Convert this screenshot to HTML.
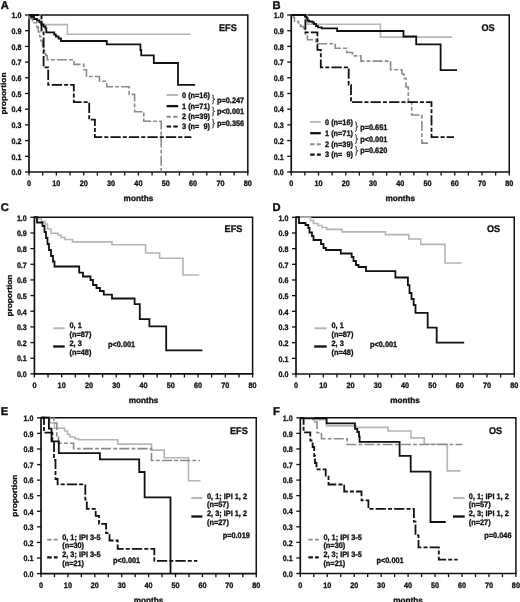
<!DOCTYPE html>
<html><head><meta charset="utf-8"><title>Kaplan-Meier survival curves</title>
<style>
html,body{margin:0;padding:0;background:#fff;}
body{width:520px;height:602px;overflow:hidden;}
svg{display:block;}
text{font-family:"Liberation Sans", sans-serif;font-weight:bold;fill:#111;stroke:#111;stroke-width:0.32px;text-rendering:geometricPrecision;}
svg{will-change:transform;}
</style></head>
<body>
<svg width="520" height="602" viewBox="0 0 520 602">
<rect width="520" height="602" fill="#fff"/>
<text transform="translate(0.80 8.60) scale(1.0 1.0)" font-size="11.2" text-anchor="start" style="stroke-width:0.4px">A</text>
<text transform="translate(272.50 8.60) scale(1.0 1.0)" font-size="11.2" text-anchor="start" style="stroke-width:0.4px">B</text>
<text transform="translate(0.80 211.00) scale(1.0 1.0)" font-size="11.2" text-anchor="start" style="stroke-width:0.4px">C</text>
<text transform="translate(272.50 211.00) scale(1.0 1.0)" font-size="11.2" text-anchor="start" style="stroke-width:0.4px">D</text>
<text transform="translate(0.80 415.40) scale(1.0 1.0)" font-size="11.2" text-anchor="start" style="stroke-width:0.4px">E</text>
<text transform="translate(272.90 415.40) scale(1.0 1.0)" font-size="11.2" text-anchor="start" style="stroke-width:0.4px">F</text>
<path d="M29.00,15.00 H247.80 V172.00" fill="none" stroke="#111" stroke-width="1.5" stroke-linejoin="miter"/>
<line x1="29.00" y1="14.20" x2="29.00" y2="172.80" stroke="#111" stroke-width="1.7" />
<line x1="28.20" y1="172.00" x2="248.60" y2="172.00" stroke="#111" stroke-width="1.7" />
<line x1="25.00" y1="172.00" x2="29.00" y2="172.00" stroke="#111" stroke-width="1.3" />
<text transform="translate(21.40 175.25) scale(0.95 1.05)" font-size="7.5" text-anchor="end" >0.0</text>
<line x1="25.00" y1="156.30" x2="29.00" y2="156.30" stroke="#111" stroke-width="1.3" />
<text transform="translate(21.40 159.55) scale(0.95 1.05)" font-size="7.5" text-anchor="end" >0.1</text>
<line x1="25.00" y1="140.60" x2="29.00" y2="140.60" stroke="#111" stroke-width="1.3" />
<text transform="translate(21.40 143.85) scale(0.95 1.05)" font-size="7.5" text-anchor="end" >0.2</text>
<line x1="25.00" y1="124.90" x2="29.00" y2="124.90" stroke="#111" stroke-width="1.3" />
<text transform="translate(21.40 128.15) scale(0.95 1.05)" font-size="7.5" text-anchor="end" >0.3</text>
<line x1="25.00" y1="109.20" x2="29.00" y2="109.20" stroke="#111" stroke-width="1.3" />
<text transform="translate(21.40 112.45) scale(0.95 1.05)" font-size="7.5" text-anchor="end" >0.4</text>
<line x1="25.00" y1="93.50" x2="29.00" y2="93.50" stroke="#111" stroke-width="1.3" />
<text transform="translate(21.40 96.75) scale(0.95 1.05)" font-size="7.5" text-anchor="end" >0.5</text>
<line x1="25.00" y1="77.80" x2="29.00" y2="77.80" stroke="#111" stroke-width="1.3" />
<text transform="translate(21.40 81.05) scale(0.95 1.05)" font-size="7.5" text-anchor="end" >0.6</text>
<line x1="25.00" y1="62.10" x2="29.00" y2="62.10" stroke="#111" stroke-width="1.3" />
<text transform="translate(21.40 65.35) scale(0.95 1.05)" font-size="7.5" text-anchor="end" >0.7</text>
<line x1="25.00" y1="46.40" x2="29.00" y2="46.40" stroke="#111" stroke-width="1.3" />
<text transform="translate(21.40 49.65) scale(0.95 1.05)" font-size="7.5" text-anchor="end" >0.8</text>
<line x1="25.00" y1="30.70" x2="29.00" y2="30.70" stroke="#111" stroke-width="1.3" />
<text transform="translate(21.40 33.95) scale(0.95 1.05)" font-size="7.5" text-anchor="end" >0.9</text>
<line x1="25.00" y1="15.00" x2="29.00" y2="15.00" stroke="#111" stroke-width="1.3" />
<text transform="translate(21.40 18.25) scale(0.95 1.05)" font-size="7.5" text-anchor="end" >1.0</text>
<line x1="29.00" y1="172.00" x2="29.00" y2="175.60" stroke="#111" stroke-width="1.3" />
<text transform="translate(29.00 186.10) scale(0.97 1.05)" font-size="7.5" text-anchor="middle" >0</text>
<line x1="42.67" y1="172.00" x2="42.67" y2="175.60" stroke="#111" stroke-width="1.3" />
<line x1="56.35" y1="172.00" x2="56.35" y2="175.60" stroke="#111" stroke-width="1.3" />
<text transform="translate(56.35 186.10) scale(0.97 1.05)" font-size="7.5" text-anchor="middle" >10</text>
<line x1="70.03" y1="172.00" x2="70.03" y2="175.60" stroke="#111" stroke-width="1.3" />
<line x1="83.70" y1="172.00" x2="83.70" y2="175.60" stroke="#111" stroke-width="1.3" />
<text transform="translate(83.70 186.10) scale(0.97 1.05)" font-size="7.5" text-anchor="middle" >20</text>
<line x1="97.38" y1="172.00" x2="97.38" y2="175.60" stroke="#111" stroke-width="1.3" />
<line x1="111.05" y1="172.00" x2="111.05" y2="175.60" stroke="#111" stroke-width="1.3" />
<text transform="translate(111.05 186.10) scale(0.97 1.05)" font-size="7.5" text-anchor="middle" >30</text>
<line x1="124.72" y1="172.00" x2="124.72" y2="175.60" stroke="#111" stroke-width="1.3" />
<line x1="138.40" y1="172.00" x2="138.40" y2="175.60" stroke="#111" stroke-width="1.3" />
<text transform="translate(138.40 186.10) scale(0.97 1.05)" font-size="7.5" text-anchor="middle" >40</text>
<line x1="152.07" y1="172.00" x2="152.07" y2="175.60" stroke="#111" stroke-width="1.3" />
<line x1="165.75" y1="172.00" x2="165.75" y2="175.60" stroke="#111" stroke-width="1.3" />
<text transform="translate(165.75 186.10) scale(0.97 1.05)" font-size="7.5" text-anchor="middle" >50</text>
<line x1="179.43" y1="172.00" x2="179.43" y2="175.60" stroke="#111" stroke-width="1.3" />
<line x1="193.10" y1="172.00" x2="193.10" y2="175.60" stroke="#111" stroke-width="1.3" />
<text transform="translate(193.10 186.10) scale(0.97 1.05)" font-size="7.5" text-anchor="middle" >60</text>
<line x1="206.78" y1="172.00" x2="206.78" y2="175.60" stroke="#111" stroke-width="1.3" />
<line x1="220.45" y1="172.00" x2="220.45" y2="175.60" stroke="#111" stroke-width="1.3" />
<text transform="translate(220.45 186.10) scale(0.97 1.05)" font-size="7.5" text-anchor="middle" >70</text>
<line x1="234.12" y1="172.00" x2="234.12" y2="175.60" stroke="#111" stroke-width="1.3" />
<line x1="247.80" y1="172.00" x2="247.80" y2="175.60" stroke="#111" stroke-width="1.3" />
<text transform="translate(247.80 186.10) scale(0.97 1.05)" font-size="7.5" text-anchor="middle" >80</text>
<text transform="translate(138.40 201.10) scale(1.0 1.0)" font-size="8.2" text-anchor="middle" >months</text>
<text transform="translate(6.40 93.50) rotate(-90) scale(1.0 0.9)" font-size="8.3" text-anchor="middle">proportion</text>
<text transform="translate(219.00 31.20) scale(0.98 1.05)" font-size="9.3" text-anchor="start" >EFS</text>
<path d="M29,15 H41.5 V24.6 H67.4 V34.3 H190.4" fill="none" stroke="#b5b5b5" stroke-width="1.6" stroke-linejoin="miter" stroke-linecap="butt"/>
<path d="M29,15 H31 V17 H34 V19 H37 V20.5 H39.5 V22.3 H41.5 V24.5 H43.5 V26.5 H45.5 V28.5 H46.3 V32.3 H54.2 V34.5 H55.8 V36.5 H58.5 V38.5 H61 V41 H106.8 V44.4 H140.4 V50 H141.2 V55.3 H153.8 V63 H178 V84.8 H195.2" fill="none" stroke="#111" stroke-width="1.8" stroke-linejoin="miter" stroke-linecap="butt"/>
<path d="M29,15 V18.5 H32.5 V22.8 H36.8 V27 H38.3 V32 H39.8 V36.8 H41 V41 H42.6 V46 H44 V51 H45.6 V55.5 H47.2 V59.8 H74 V64.4 H83.8 V69.8 H86.5 V76.5 H99.5 V81.3 H106.7 V86.7 H129.2 V94.4 H134.6 V111.7 H143.8 V121.3 H161.2 V172" fill="none" stroke="#8a8a8a" stroke-width="1.6" stroke-dasharray="10 2.2 3.8 2.2" stroke-linejoin="miter" stroke-linecap="butt"/>
<path d="M29,15 H41.5 V32.4 H43.6 V67.3 H48.2 V84.8 H73.8 V102.2 H89.2 V119.7 H94.9 V137.1 H191.3" fill="none" stroke="#111" stroke-width="1.8" stroke-dasharray="10.3 2.1 4.0 2.1" stroke-linejoin="miter" stroke-linecap="butt"/>
<line x1="166.60" y1="95.00" x2="178.20" y2="95.00" stroke="#b5b5b5" stroke-width="1.9" />
<text transform="translate(182.00 97.70) scale(0.98 1.05)" font-size="7.5" text-anchor="start" xml:space="preserve">0 (n=16)</text>
<line x1="166.60" y1="106.10" x2="178.20" y2="106.10" stroke="#111" stroke-width="2.3" />
<text transform="translate(182.00 108.80) scale(0.98 1.05)" font-size="7.5" text-anchor="start" xml:space="preserve">1 (n=71)</text>
<line x1="166.60" y1="116.70" x2="178.20" y2="116.70" stroke="#8a8a8a" stroke-width="1.9" stroke-dasharray="4.3 2.3"/>
<text transform="translate(182.00 119.40) scale(0.98 1.05)" font-size="7.5" text-anchor="start" xml:space="preserve">2 (n=39)</text>
<line x1="166.60" y1="126.50" x2="178.20" y2="126.50" stroke="#111" stroke-width="2.2" stroke-dasharray="4.5 2.2"/>
<text transform="translate(182.00 129.20) scale(0.98 1.05)" font-size="7.5" text-anchor="start" xml:space="preserve">3 (n=  9)</text>
<path d="M211.90,94.80 C213.20,94.80 213.20,95.60 213.20,96.80 L213.20,98.05 C213.20,99.05 213.90,99.35 214.80,99.35 C213.90,99.35 213.20,99.65 213.20,100.65 L213.20,101.90 C213.20,103.10 213.20,103.90 211.90,103.90" fill="none" stroke="#222" stroke-width="1.0"/>
<path d="M211.90,106.90 C213.20,106.90 213.20,107.70 213.20,108.90 L213.20,110.15 C213.20,111.15 213.90,111.45 214.80,111.45 C213.90,111.45 213.20,111.75 213.20,112.75 L213.20,114.00 C213.20,115.20 213.20,116.00 211.90,116.00" fill="none" stroke="#222" stroke-width="1.0"/>
<path d="M211.90,119.00 C213.20,119.00 213.20,119.80 213.20,121.00 L213.20,122.25 C213.20,123.25 213.90,123.55 214.80,123.55 C213.90,123.55 213.20,123.85 213.20,124.85 L213.20,126.10 C213.20,127.30 213.20,128.10 211.90,128.10" fill="none" stroke="#222" stroke-width="1.0"/>
<text transform="translate(217.00 103.20) scale(0.98 1.05)" font-size="7.5" text-anchor="start" >p=0.247</text>
<text transform="translate(217.00 114.40) scale(0.98 1.05)" font-size="7.5" text-anchor="start" >p&lt;0.001</text>
<text transform="translate(217.00 125.60) scale(0.98 1.05)" font-size="7.5" text-anchor="start" >p=0.356</text>
<path d="M291.25,15.00 H509.25 V172.00" fill="none" stroke="#111" stroke-width="1.5" stroke-linejoin="miter"/>
<line x1="291.25" y1="14.20" x2="291.25" y2="172.80" stroke="#111" stroke-width="1.7" />
<line x1="290.45" y1="172.00" x2="510.05" y2="172.00" stroke="#111" stroke-width="1.7" />
<line x1="287.25" y1="172.00" x2="291.25" y2="172.00" stroke="#111" stroke-width="1.3" />
<text transform="translate(283.65 175.25) scale(0.95 1.05)" font-size="7.5" text-anchor="end" >0.0</text>
<line x1="287.25" y1="156.30" x2="291.25" y2="156.30" stroke="#111" stroke-width="1.3" />
<text transform="translate(283.65 159.55) scale(0.95 1.05)" font-size="7.5" text-anchor="end" >0.1</text>
<line x1="287.25" y1="140.60" x2="291.25" y2="140.60" stroke="#111" stroke-width="1.3" />
<text transform="translate(283.65 143.85) scale(0.95 1.05)" font-size="7.5" text-anchor="end" >0.2</text>
<line x1="287.25" y1="124.90" x2="291.25" y2="124.90" stroke="#111" stroke-width="1.3" />
<text transform="translate(283.65 128.15) scale(0.95 1.05)" font-size="7.5" text-anchor="end" >0.3</text>
<line x1="287.25" y1="109.20" x2="291.25" y2="109.20" stroke="#111" stroke-width="1.3" />
<text transform="translate(283.65 112.45) scale(0.95 1.05)" font-size="7.5" text-anchor="end" >0.4</text>
<line x1="287.25" y1="93.50" x2="291.25" y2="93.50" stroke="#111" stroke-width="1.3" />
<text transform="translate(283.65 96.75) scale(0.95 1.05)" font-size="7.5" text-anchor="end" >0.5</text>
<line x1="287.25" y1="77.80" x2="291.25" y2="77.80" stroke="#111" stroke-width="1.3" />
<text transform="translate(283.65 81.05) scale(0.95 1.05)" font-size="7.5" text-anchor="end" >0.6</text>
<line x1="287.25" y1="62.10" x2="291.25" y2="62.10" stroke="#111" stroke-width="1.3" />
<text transform="translate(283.65 65.35) scale(0.95 1.05)" font-size="7.5" text-anchor="end" >0.7</text>
<line x1="287.25" y1="46.40" x2="291.25" y2="46.40" stroke="#111" stroke-width="1.3" />
<text transform="translate(283.65 49.65) scale(0.95 1.05)" font-size="7.5" text-anchor="end" >0.8</text>
<line x1="287.25" y1="30.70" x2="291.25" y2="30.70" stroke="#111" stroke-width="1.3" />
<text transform="translate(283.65 33.95) scale(0.95 1.05)" font-size="7.5" text-anchor="end" >0.9</text>
<line x1="287.25" y1="15.00" x2="291.25" y2="15.00" stroke="#111" stroke-width="1.3" />
<text transform="translate(283.65 18.25) scale(0.95 1.05)" font-size="7.5" text-anchor="end" >1.0</text>
<line x1="291.25" y1="172.00" x2="291.25" y2="175.60" stroke="#111" stroke-width="1.3" />
<text transform="translate(291.25 186.10) scale(0.97 1.05)" font-size="7.5" text-anchor="middle" >0</text>
<line x1="304.88" y1="172.00" x2="304.88" y2="175.60" stroke="#111" stroke-width="1.3" />
<line x1="318.50" y1="172.00" x2="318.50" y2="175.60" stroke="#111" stroke-width="1.3" />
<text transform="translate(318.50 186.10) scale(0.97 1.05)" font-size="7.5" text-anchor="middle" >10</text>
<line x1="332.12" y1="172.00" x2="332.12" y2="175.60" stroke="#111" stroke-width="1.3" />
<line x1="345.75" y1="172.00" x2="345.75" y2="175.60" stroke="#111" stroke-width="1.3" />
<text transform="translate(345.75 186.10) scale(0.97 1.05)" font-size="7.5" text-anchor="middle" >20</text>
<line x1="359.38" y1="172.00" x2="359.38" y2="175.60" stroke="#111" stroke-width="1.3" />
<line x1="373.00" y1="172.00" x2="373.00" y2="175.60" stroke="#111" stroke-width="1.3" />
<text transform="translate(373.00 186.10) scale(0.97 1.05)" font-size="7.5" text-anchor="middle" >30</text>
<line x1="386.62" y1="172.00" x2="386.62" y2="175.60" stroke="#111" stroke-width="1.3" />
<line x1="400.25" y1="172.00" x2="400.25" y2="175.60" stroke="#111" stroke-width="1.3" />
<text transform="translate(400.25 186.10) scale(0.97 1.05)" font-size="7.5" text-anchor="middle" >40</text>
<line x1="413.88" y1="172.00" x2="413.88" y2="175.60" stroke="#111" stroke-width="1.3" />
<line x1="427.50" y1="172.00" x2="427.50" y2="175.60" stroke="#111" stroke-width="1.3" />
<text transform="translate(427.50 186.10) scale(0.97 1.05)" font-size="7.5" text-anchor="middle" >50</text>
<line x1="441.12" y1="172.00" x2="441.12" y2="175.60" stroke="#111" stroke-width="1.3" />
<line x1="454.75" y1="172.00" x2="454.75" y2="175.60" stroke="#111" stroke-width="1.3" />
<text transform="translate(454.75 186.10) scale(0.97 1.05)" font-size="7.5" text-anchor="middle" >60</text>
<line x1="468.38" y1="172.00" x2="468.38" y2="175.60" stroke="#111" stroke-width="1.3" />
<line x1="482.00" y1="172.00" x2="482.00" y2="175.60" stroke="#111" stroke-width="1.3" />
<text transform="translate(482.00 186.10) scale(0.97 1.05)" font-size="7.5" text-anchor="middle" >70</text>
<line x1="495.62" y1="172.00" x2="495.62" y2="175.60" stroke="#111" stroke-width="1.3" />
<line x1="509.25" y1="172.00" x2="509.25" y2="175.60" stroke="#111" stroke-width="1.3" />
<text transform="translate(509.25 186.10) scale(0.97 1.05)" font-size="7.5" text-anchor="middle" >80</text>
<text transform="translate(400.25 201.10) scale(1.0 1.0)" font-size="8.2" text-anchor="middle" >months</text>
<text transform="translate(481.50 31.00) scale(0.98 1.05)" font-size="9.3" text-anchor="start" >OS</text>
<path d="M291.25,15 H307.3 V24.2 H380.4 V37.1 H452.3" fill="none" stroke="#b5b5b5" stroke-width="1.6" stroke-linejoin="miter" stroke-linecap="butt"/>
<path d="M291.25,15 H305 V16.5 H306.5 V18 H307.5 V20.5 H309 V21.5 H312.5 V22.5 H314 V24 H316 V26 H318 V27.3 H321.7 V28.4 H337.1 V31 H403.5 V36.5 H416.2 V44.4 H440.6 V70.2 H457" fill="none" stroke="#111" stroke-width="1.8" stroke-linejoin="miter" stroke-linecap="butt"/>
<path d="M291.25,15 H293.5 V17.5 H294.5 V21.5 H298.5 V23 H300.5 V26.5 H303.5 V28 H304.5 V31.5 H305.5 V35 H307.5 V39.7 H316 V43.7 H335.2 V48.2 H346.7 V52.5 H352.5 V55.9 H361 V61.1 H390.6 V69.8 H402 V74 H404 V78.4 H406 V87 H408.3 V102 H411.7 V115 H421.9 V143.1 H428" fill="none" stroke="#8a8a8a" stroke-width="1.6" stroke-dasharray="10 2.2 3.8 2.2" stroke-linejoin="miter" stroke-linecap="butt"/>
<path d="M291.25,15 H305.4 V32.4 H317.4 V49.9 H320.8 V67.3 H348.7 V84.8 H351 V102.2 H431.5 V137.1 H454" fill="none" stroke="#111" stroke-width="1.8" stroke-dasharray="10.3 2.1 4.0 2.1" stroke-linejoin="miter" stroke-linecap="butt"/>
<line x1="310.20" y1="121.90" x2="320.80" y2="121.90" stroke="#b5b5b5" stroke-width="1.9" />
<text transform="translate(325.00 124.60) scale(0.98 1.05)" font-size="7.5" text-anchor="start" xml:space="preserve">0 (n=16)</text>
<line x1="310.20" y1="133.20" x2="320.80" y2="133.20" stroke="#111" stroke-width="2.3" />
<text transform="translate(325.00 135.90) scale(0.98 1.05)" font-size="7.5" text-anchor="start" xml:space="preserve">1 (n=71)</text>
<line x1="310.20" y1="144.20" x2="320.80" y2="144.20" stroke="#8a8a8a" stroke-width="1.9" stroke-dasharray="4.3 2.3"/>
<text transform="translate(325.00 146.90) scale(0.98 1.05)" font-size="7.5" text-anchor="start" xml:space="preserve">2 (n=39)</text>
<line x1="310.20" y1="154.60" x2="320.80" y2="154.60" stroke="#111" stroke-width="2.2" stroke-dasharray="4.5 2.2"/>
<text transform="translate(325.00 157.30) scale(0.98 1.05)" font-size="7.5" text-anchor="start" xml:space="preserve">3 (n=  9)</text>
<path d="M355.00,121.90 C356.30,121.90 356.30,122.70 356.30,123.90 L356.30,125.40 C356.30,126.40 357.00,126.70 357.90,126.70 C357.00,126.70 356.30,127.00 356.30,128.00 L356.30,129.50 C356.30,130.70 356.30,131.50 355.00,131.50" fill="none" stroke="#222" stroke-width="1.0"/>
<path d="M355.00,134.50 C356.30,134.50 356.30,135.30 356.30,136.50 L356.30,137.75 C356.30,138.75 357.00,139.05 357.90,139.05 C357.00,139.05 356.30,139.35 356.30,140.35 L356.30,141.60 C356.30,142.80 356.30,143.60 355.00,143.60" fill="none" stroke="#222" stroke-width="1.0"/>
<path d="M355.00,146.20 C356.30,146.20 356.30,147.00 356.30,148.20 L356.30,149.45 C356.30,150.45 357.00,150.75 357.90,150.75 C357.00,150.75 356.30,151.05 356.30,152.05 L356.30,153.30 C356.30,154.50 356.30,155.30 355.00,155.30" fill="none" stroke="#222" stroke-width="1.0"/>
<text transform="translate(360.20 129.90) scale(0.98 1.05)" font-size="7.5" text-anchor="start" >p=0.651</text>
<text transform="translate(360.20 141.50) scale(0.98 1.05)" font-size="7.5" text-anchor="start" >p&lt;0.001</text>
<text transform="translate(360.20 152.90) scale(0.98 1.05)" font-size="7.5" text-anchor="start" >p=0.620</text>
<path d="M34.40,217.30 H252.60 V373.90" fill="none" stroke="#111" stroke-width="1.5" stroke-linejoin="miter"/>
<line x1="34.40" y1="216.50" x2="34.40" y2="374.70" stroke="#111" stroke-width="1.7" />
<line x1="33.60" y1="373.90" x2="253.40" y2="373.90" stroke="#111" stroke-width="1.7" />
<line x1="30.40" y1="373.90" x2="34.40" y2="373.90" stroke="#111" stroke-width="1.3" />
<text transform="translate(26.80 377.15) scale(0.95 1.05)" font-size="7.5" text-anchor="end" >0.0</text>
<line x1="30.40" y1="358.24" x2="34.40" y2="358.24" stroke="#111" stroke-width="1.3" />
<text transform="translate(26.80 361.49) scale(0.95 1.05)" font-size="7.5" text-anchor="end" >0.1</text>
<line x1="30.40" y1="342.58" x2="34.40" y2="342.58" stroke="#111" stroke-width="1.3" />
<text transform="translate(26.80 345.83) scale(0.95 1.05)" font-size="7.5" text-anchor="end" >0.2</text>
<line x1="30.40" y1="326.92" x2="34.40" y2="326.92" stroke="#111" stroke-width="1.3" />
<text transform="translate(26.80 330.17) scale(0.95 1.05)" font-size="7.5" text-anchor="end" >0.3</text>
<line x1="30.40" y1="311.26" x2="34.40" y2="311.26" stroke="#111" stroke-width="1.3" />
<text transform="translate(26.80 314.51) scale(0.95 1.05)" font-size="7.5" text-anchor="end" >0.4</text>
<line x1="30.40" y1="295.60" x2="34.40" y2="295.60" stroke="#111" stroke-width="1.3" />
<text transform="translate(26.80 298.85) scale(0.95 1.05)" font-size="7.5" text-anchor="end" >0.5</text>
<line x1="30.40" y1="279.94" x2="34.40" y2="279.94" stroke="#111" stroke-width="1.3" />
<text transform="translate(26.80 283.19) scale(0.95 1.05)" font-size="7.5" text-anchor="end" >0.6</text>
<line x1="30.40" y1="264.28" x2="34.40" y2="264.28" stroke="#111" stroke-width="1.3" />
<text transform="translate(26.80 267.53) scale(0.95 1.05)" font-size="7.5" text-anchor="end" >0.7</text>
<line x1="30.40" y1="248.62" x2="34.40" y2="248.62" stroke="#111" stroke-width="1.3" />
<text transform="translate(26.80 251.87) scale(0.95 1.05)" font-size="7.5" text-anchor="end" >0.8</text>
<line x1="30.40" y1="232.96" x2="34.40" y2="232.96" stroke="#111" stroke-width="1.3" />
<text transform="translate(26.80 236.21) scale(0.95 1.05)" font-size="7.5" text-anchor="end" >0.9</text>
<line x1="30.40" y1="217.30" x2="34.40" y2="217.30" stroke="#111" stroke-width="1.3" />
<text transform="translate(26.80 220.55) scale(0.95 1.05)" font-size="7.5" text-anchor="end" >1.0</text>
<line x1="34.40" y1="373.90" x2="34.40" y2="377.50" stroke="#111" stroke-width="1.3" />
<text transform="translate(34.40 388.00) scale(0.97 1.05)" font-size="7.5" text-anchor="middle" >0</text>
<line x1="48.04" y1="373.90" x2="48.04" y2="377.50" stroke="#111" stroke-width="1.3" />
<line x1="61.67" y1="373.90" x2="61.67" y2="377.50" stroke="#111" stroke-width="1.3" />
<text transform="translate(61.67 388.00) scale(0.97 1.05)" font-size="7.5" text-anchor="middle" >10</text>
<line x1="75.31" y1="373.90" x2="75.31" y2="377.50" stroke="#111" stroke-width="1.3" />
<line x1="88.95" y1="373.90" x2="88.95" y2="377.50" stroke="#111" stroke-width="1.3" />
<text transform="translate(88.95 388.00) scale(0.97 1.05)" font-size="7.5" text-anchor="middle" >20</text>
<line x1="102.59" y1="373.90" x2="102.59" y2="377.50" stroke="#111" stroke-width="1.3" />
<line x1="116.22" y1="373.90" x2="116.22" y2="377.50" stroke="#111" stroke-width="1.3" />
<text transform="translate(116.22 388.00) scale(0.97 1.05)" font-size="7.5" text-anchor="middle" >30</text>
<line x1="129.86" y1="373.90" x2="129.86" y2="377.50" stroke="#111" stroke-width="1.3" />
<line x1="143.50" y1="373.90" x2="143.50" y2="377.50" stroke="#111" stroke-width="1.3" />
<text transform="translate(143.50 388.00) scale(0.97 1.05)" font-size="7.5" text-anchor="middle" >40</text>
<line x1="157.14" y1="373.90" x2="157.14" y2="377.50" stroke="#111" stroke-width="1.3" />
<line x1="170.78" y1="373.90" x2="170.78" y2="377.50" stroke="#111" stroke-width="1.3" />
<text transform="translate(170.78 388.00) scale(0.97 1.05)" font-size="7.5" text-anchor="middle" >50</text>
<line x1="184.41" y1="373.90" x2="184.41" y2="377.50" stroke="#111" stroke-width="1.3" />
<line x1="198.05" y1="373.90" x2="198.05" y2="377.50" stroke="#111" stroke-width="1.3" />
<text transform="translate(198.05 388.00) scale(0.97 1.05)" font-size="7.5" text-anchor="middle" >60</text>
<line x1="211.69" y1="373.90" x2="211.69" y2="377.50" stroke="#111" stroke-width="1.3" />
<line x1="225.33" y1="373.90" x2="225.33" y2="377.50" stroke="#111" stroke-width="1.3" />
<text transform="translate(225.33 388.00) scale(0.97 1.05)" font-size="7.5" text-anchor="middle" >70</text>
<line x1="238.96" y1="373.90" x2="238.96" y2="377.50" stroke="#111" stroke-width="1.3" />
<line x1="252.60" y1="373.90" x2="252.60" y2="377.50" stroke="#111" stroke-width="1.3" />
<text transform="translate(252.60 388.00) scale(0.97 1.05)" font-size="7.5" text-anchor="middle" >80</text>
<text transform="translate(143.50 403.00) scale(1.0 1.0)" font-size="8.2" text-anchor="middle" >months</text>
<text transform="translate(11.60 295.60) rotate(-90) scale(1.0 0.9)" font-size="8.3" text-anchor="middle">proportion</text>
<text transform="translate(224.60 232.40) scale(0.98 1.05)" font-size="9.3" text-anchor="start" >EFS</text>
<path d="M34.1,217.25 H37 V219 H41.5 V221.5 H45 V224 H47.5 V229 H51 V233.3 H58 V235 H61 V237.5 H65 V239.5 H72.5 V241.9 H112 V244.8 H145.6 V253 H159.6 V258.3 H183 V275 H199.4" fill="none" stroke="#b5b5b5" stroke-width="1.6" stroke-linejoin="miter" stroke-linecap="butt"/>
<path d="M34.1,217.25 H37 V222.5 H42.5 V226 H44.5 V232 H46 V238 H47.5 V244 H49 V250 H51 V256 H53 V261.5 H54.5 V266.5 H79.2 V272.7 H83 V276.5 H90.5 V280 H93 V285 H96.5 V288 H100 V291 H103.8 V294.6 H112 V298.5 H134.6 V304.2 H139.8 V319.2 H149.4 V326.3 H166.2 V350.4 H202.3" fill="none" stroke="#111" stroke-width="1.8" stroke-linejoin="miter" stroke-linecap="butt"/>
<line x1="53.20" y1="328.30" x2="64.70" y2="328.30" stroke="#b5b5b5" stroke-width="1.9" />
<line x1="53.20" y1="346.50" x2="64.70" y2="346.50" stroke="#111" stroke-width="2.3" />
<text transform="translate(69.50 328.40) scale(0.98 1.05)" font-size="7.5" text-anchor="start" >0, 1</text>
<text transform="translate(69.50 336.90) scale(0.98 1.05)" font-size="7.5" text-anchor="start" >(n=87)</text>
<text transform="translate(69.50 346.20) scale(0.98 1.05)" font-size="7.5" text-anchor="start" >2, 3</text>
<text transform="translate(69.50 354.90) scale(0.98 1.05)" font-size="7.5" text-anchor="start" >(n=48)</text>
<text transform="translate(108.00 347.30) scale(0.98 1.05)" font-size="7.5" text-anchor="start" >p&lt;0.001</text>
<path d="M296.00,217.30 H514.25 V374.00" fill="none" stroke="#111" stroke-width="1.5" stroke-linejoin="miter"/>
<line x1="296.00" y1="216.50" x2="296.00" y2="374.80" stroke="#111" stroke-width="1.7" />
<line x1="295.20" y1="374.00" x2="515.05" y2="374.00" stroke="#111" stroke-width="1.7" />
<line x1="292.00" y1="374.00" x2="296.00" y2="374.00" stroke="#111" stroke-width="1.3" />
<text transform="translate(288.40 377.25) scale(0.95 1.05)" font-size="7.5" text-anchor="end" >0.0</text>
<line x1="292.00" y1="358.33" x2="296.00" y2="358.33" stroke="#111" stroke-width="1.3" />
<text transform="translate(288.40 361.58) scale(0.95 1.05)" font-size="7.5" text-anchor="end" >0.1</text>
<line x1="292.00" y1="342.66" x2="296.00" y2="342.66" stroke="#111" stroke-width="1.3" />
<text transform="translate(288.40 345.91) scale(0.95 1.05)" font-size="7.5" text-anchor="end" >0.2</text>
<line x1="292.00" y1="326.99" x2="296.00" y2="326.99" stroke="#111" stroke-width="1.3" />
<text transform="translate(288.40 330.24) scale(0.95 1.05)" font-size="7.5" text-anchor="end" >0.3</text>
<line x1="292.00" y1="311.32" x2="296.00" y2="311.32" stroke="#111" stroke-width="1.3" />
<text transform="translate(288.40 314.57) scale(0.95 1.05)" font-size="7.5" text-anchor="end" >0.4</text>
<line x1="292.00" y1="295.65" x2="296.00" y2="295.65" stroke="#111" stroke-width="1.3" />
<text transform="translate(288.40 298.90) scale(0.95 1.05)" font-size="7.5" text-anchor="end" >0.5</text>
<line x1="292.00" y1="279.98" x2="296.00" y2="279.98" stroke="#111" stroke-width="1.3" />
<text transform="translate(288.40 283.23) scale(0.95 1.05)" font-size="7.5" text-anchor="end" >0.6</text>
<line x1="292.00" y1="264.31" x2="296.00" y2="264.31" stroke="#111" stroke-width="1.3" />
<text transform="translate(288.40 267.56) scale(0.95 1.05)" font-size="7.5" text-anchor="end" >0.7</text>
<line x1="292.00" y1="248.64" x2="296.00" y2="248.64" stroke="#111" stroke-width="1.3" />
<text transform="translate(288.40 251.89) scale(0.95 1.05)" font-size="7.5" text-anchor="end" >0.8</text>
<line x1="292.00" y1="232.97" x2="296.00" y2="232.97" stroke="#111" stroke-width="1.3" />
<text transform="translate(288.40 236.22) scale(0.95 1.05)" font-size="7.5" text-anchor="end" >0.9</text>
<line x1="292.00" y1="217.30" x2="296.00" y2="217.30" stroke="#111" stroke-width="1.3" />
<text transform="translate(288.40 220.55) scale(0.95 1.05)" font-size="7.5" text-anchor="end" >1.0</text>
<line x1="296.00" y1="374.00" x2="296.00" y2="377.60" stroke="#111" stroke-width="1.3" />
<text transform="translate(296.00 388.10) scale(0.97 1.05)" font-size="7.5" text-anchor="middle" >0</text>
<line x1="309.64" y1="374.00" x2="309.64" y2="377.60" stroke="#111" stroke-width="1.3" />
<line x1="323.28" y1="374.00" x2="323.28" y2="377.60" stroke="#111" stroke-width="1.3" />
<text transform="translate(323.28 388.10) scale(0.97 1.05)" font-size="7.5" text-anchor="middle" >10</text>
<line x1="336.92" y1="374.00" x2="336.92" y2="377.60" stroke="#111" stroke-width="1.3" />
<line x1="350.56" y1="374.00" x2="350.56" y2="377.60" stroke="#111" stroke-width="1.3" />
<text transform="translate(350.56 388.10) scale(0.97 1.05)" font-size="7.5" text-anchor="middle" >20</text>
<line x1="364.20" y1="374.00" x2="364.20" y2="377.60" stroke="#111" stroke-width="1.3" />
<line x1="377.84" y1="374.00" x2="377.84" y2="377.60" stroke="#111" stroke-width="1.3" />
<text transform="translate(377.84 388.10) scale(0.97 1.05)" font-size="7.5" text-anchor="middle" >30</text>
<line x1="391.48" y1="374.00" x2="391.48" y2="377.60" stroke="#111" stroke-width="1.3" />
<line x1="405.12" y1="374.00" x2="405.12" y2="377.60" stroke="#111" stroke-width="1.3" />
<text transform="translate(405.12 388.10) scale(0.97 1.05)" font-size="7.5" text-anchor="middle" >40</text>
<line x1="418.77" y1="374.00" x2="418.77" y2="377.60" stroke="#111" stroke-width="1.3" />
<line x1="432.41" y1="374.00" x2="432.41" y2="377.60" stroke="#111" stroke-width="1.3" />
<text transform="translate(432.41 388.10) scale(0.97 1.05)" font-size="7.5" text-anchor="middle" >50</text>
<line x1="446.05" y1="374.00" x2="446.05" y2="377.60" stroke="#111" stroke-width="1.3" />
<line x1="459.69" y1="374.00" x2="459.69" y2="377.60" stroke="#111" stroke-width="1.3" />
<text transform="translate(459.69 388.10) scale(0.97 1.05)" font-size="7.5" text-anchor="middle" >60</text>
<line x1="473.33" y1="374.00" x2="473.33" y2="377.60" stroke="#111" stroke-width="1.3" />
<line x1="486.97" y1="374.00" x2="486.97" y2="377.60" stroke="#111" stroke-width="1.3" />
<text transform="translate(486.97 388.10) scale(0.97 1.05)" font-size="7.5" text-anchor="middle" >70</text>
<line x1="500.61" y1="374.00" x2="500.61" y2="377.60" stroke="#111" stroke-width="1.3" />
<line x1="514.25" y1="374.00" x2="514.25" y2="377.60" stroke="#111" stroke-width="1.3" />
<text transform="translate(514.25 388.10) scale(0.97 1.05)" font-size="7.5" text-anchor="middle" >80</text>
<text transform="translate(405.12 403.10) scale(1.0 1.0)" font-size="8.2" text-anchor="middle" >months</text>
<text transform="translate(486.90 232.40) scale(0.98 1.05)" font-size="9.3" text-anchor="start" >OS</text>
<path d="M296,217.25 H310.5 V220.5 H313.5 V223.5 H318 V225.5 H322 V227.5 H326.7 V229.4 H342 V231.9 H385.4 V234.6 H408.8 V239 H420.8 V244.4 H445 V263 H461.7" fill="none" stroke="#b5b5b5" stroke-width="1.6" stroke-linejoin="miter" stroke-linecap="butt"/>
<path d="M296,217.25 H299 V223 H305.5 V225 H308.3 V228 H309.5 V232.5 H312 V236 H313.5 V240 H321 V244 H323.5 V248 H326 V250 H340.8 V253.5 H351.7 V257 H353.5 V261 H356 V265 H358.5 V267 H366 V271.2 H395.4 V277.5 H407.9 V285.2 H409.5 V293 H411.5 V299 H413.7 V305 H415.5 V312.9 H427.7 V327.7 H436.7 V342.7 H464.2" fill="none" stroke="#111" stroke-width="1.8" stroke-linejoin="miter" stroke-linecap="butt"/>
<line x1="314.20" y1="328.30" x2="326.70" y2="328.30" stroke="#b5b5b5" stroke-width="1.9" />
<line x1="314.20" y1="346.50" x2="326.70" y2="346.50" stroke="#111" stroke-width="2.3" />
<text transform="translate(331.50 328.40) scale(0.98 1.05)" font-size="7.5" text-anchor="start" >0, 1</text>
<text transform="translate(331.50 336.90) scale(0.98 1.05)" font-size="7.5" text-anchor="start" >(n=87)</text>
<text transform="translate(331.50 346.20) scale(0.98 1.05)" font-size="7.5" text-anchor="start" >2, 3</text>
<text transform="translate(331.50 354.90) scale(0.98 1.05)" font-size="7.5" text-anchor="start" >(n=48)</text>
<text transform="translate(370.00 347.30) scale(0.98 1.05)" font-size="7.5" text-anchor="start" >p&lt;0.001</text>
<path d="M41.00,417.80 H256.25 V573.60" fill="none" stroke="#111" stroke-width="1.5" stroke-linejoin="miter"/>
<line x1="41.00" y1="417.00" x2="41.00" y2="574.40" stroke="#111" stroke-width="1.7" />
<line x1="40.20" y1="573.60" x2="257.05" y2="573.60" stroke="#111" stroke-width="1.7" />
<line x1="37.00" y1="573.60" x2="41.00" y2="573.60" stroke="#111" stroke-width="1.3" />
<text transform="translate(33.40 576.85) scale(0.95 1.05)" font-size="7.5" text-anchor="end" >0.0</text>
<line x1="37.00" y1="558.02" x2="41.00" y2="558.02" stroke="#111" stroke-width="1.3" />
<text transform="translate(33.40 561.27) scale(0.95 1.05)" font-size="7.5" text-anchor="end" >0.1</text>
<line x1="37.00" y1="542.44" x2="41.00" y2="542.44" stroke="#111" stroke-width="1.3" />
<text transform="translate(33.40 545.69) scale(0.95 1.05)" font-size="7.5" text-anchor="end" >0.2</text>
<line x1="37.00" y1="526.86" x2="41.00" y2="526.86" stroke="#111" stroke-width="1.3" />
<text transform="translate(33.40 530.11) scale(0.95 1.05)" font-size="7.5" text-anchor="end" >0.3</text>
<line x1="37.00" y1="511.28" x2="41.00" y2="511.28" stroke="#111" stroke-width="1.3" />
<text transform="translate(33.40 514.53) scale(0.95 1.05)" font-size="7.5" text-anchor="end" >0.4</text>
<line x1="37.00" y1="495.70" x2="41.00" y2="495.70" stroke="#111" stroke-width="1.3" />
<text transform="translate(33.40 498.95) scale(0.95 1.05)" font-size="7.5" text-anchor="end" >0.5</text>
<line x1="37.00" y1="480.12" x2="41.00" y2="480.12" stroke="#111" stroke-width="1.3" />
<text transform="translate(33.40 483.37) scale(0.95 1.05)" font-size="7.5" text-anchor="end" >0.6</text>
<line x1="37.00" y1="464.54" x2="41.00" y2="464.54" stroke="#111" stroke-width="1.3" />
<text transform="translate(33.40 467.79) scale(0.95 1.05)" font-size="7.5" text-anchor="end" >0.7</text>
<line x1="37.00" y1="448.96" x2="41.00" y2="448.96" stroke="#111" stroke-width="1.3" />
<text transform="translate(33.40 452.21) scale(0.95 1.05)" font-size="7.5" text-anchor="end" >0.8</text>
<line x1="37.00" y1="433.38" x2="41.00" y2="433.38" stroke="#111" stroke-width="1.3" />
<text transform="translate(33.40 436.63) scale(0.95 1.05)" font-size="7.5" text-anchor="end" >0.9</text>
<line x1="37.00" y1="417.80" x2="41.00" y2="417.80" stroke="#111" stroke-width="1.3" />
<text transform="translate(33.40 421.05) scale(0.95 1.05)" font-size="7.5" text-anchor="end" >1.0</text>
<line x1="41.00" y1="573.60" x2="41.00" y2="577.20" stroke="#111" stroke-width="1.3" />
<text transform="translate(41.00 587.70) scale(0.97 1.05)" font-size="7.5" text-anchor="middle" >0</text>
<line x1="54.45" y1="573.60" x2="54.45" y2="577.20" stroke="#111" stroke-width="1.3" />
<line x1="67.91" y1="573.60" x2="67.91" y2="577.20" stroke="#111" stroke-width="1.3" />
<text transform="translate(67.91 587.70) scale(0.97 1.05)" font-size="7.5" text-anchor="middle" >10</text>
<line x1="81.36" y1="573.60" x2="81.36" y2="577.20" stroke="#111" stroke-width="1.3" />
<line x1="94.81" y1="573.60" x2="94.81" y2="577.20" stroke="#111" stroke-width="1.3" />
<text transform="translate(94.81 587.70) scale(0.97 1.05)" font-size="7.5" text-anchor="middle" >20</text>
<line x1="108.27" y1="573.60" x2="108.27" y2="577.20" stroke="#111" stroke-width="1.3" />
<line x1="121.72" y1="573.60" x2="121.72" y2="577.20" stroke="#111" stroke-width="1.3" />
<text transform="translate(121.72 587.70) scale(0.97 1.05)" font-size="7.5" text-anchor="middle" >30</text>
<line x1="135.17" y1="573.60" x2="135.17" y2="577.20" stroke="#111" stroke-width="1.3" />
<line x1="148.62" y1="573.60" x2="148.62" y2="577.20" stroke="#111" stroke-width="1.3" />
<text transform="translate(148.62 587.70) scale(0.97 1.05)" font-size="7.5" text-anchor="middle" >40</text>
<line x1="162.08" y1="573.60" x2="162.08" y2="577.20" stroke="#111" stroke-width="1.3" />
<line x1="175.53" y1="573.60" x2="175.53" y2="577.20" stroke="#111" stroke-width="1.3" />
<text transform="translate(175.53 587.70) scale(0.97 1.05)" font-size="7.5" text-anchor="middle" >50</text>
<line x1="188.98" y1="573.60" x2="188.98" y2="577.20" stroke="#111" stroke-width="1.3" />
<line x1="202.44" y1="573.60" x2="202.44" y2="577.20" stroke="#111" stroke-width="1.3" />
<text transform="translate(202.44 587.70) scale(0.97 1.05)" font-size="7.5" text-anchor="middle" >60</text>
<line x1="215.89" y1="573.60" x2="215.89" y2="577.20" stroke="#111" stroke-width="1.3" />
<line x1="229.34" y1="573.60" x2="229.34" y2="577.20" stroke="#111" stroke-width="1.3" />
<text transform="translate(229.34 587.70) scale(0.97 1.05)" font-size="7.5" text-anchor="middle" >70</text>
<line x1="242.80" y1="573.60" x2="242.80" y2="577.20" stroke="#111" stroke-width="1.3" />
<line x1="256.25" y1="573.60" x2="256.25" y2="577.20" stroke="#111" stroke-width="1.3" />
<text transform="translate(256.25 587.70) scale(0.97 1.05)" font-size="7.5" text-anchor="middle" >80</text>
<text transform="translate(148.62 602.70) scale(1.0 1.0)" font-size="8.2" text-anchor="middle" >months</text>
<text transform="translate(16.90 495.70) rotate(-90) scale(1.0 0.9)" font-size="8.3" text-anchor="middle">proportion</text>
<text transform="translate(230.00 434.20) scale(0.98 1.05)" font-size="9.3" text-anchor="start" >EFS</text>
<path d="M41.1,417.6 H49.8 V423 H54.4 V428.2 H64.6 V431 H67.5 V434.5 H70 V437 H75 V438.8 H78.6 V439.8 H117.7 V444.1 H151.5 V450.1 H164.2 V457.7 H188.5 V480.8 H200.5" fill="none" stroke="#b5b5b5" stroke-width="1.6" stroke-linejoin="miter" stroke-linecap="butt"/>
<path d="M41.1,417.6 H53.8 V423 H56.8 V436 H58.5 V443.3 H73.6 V448.6 H151.5 V460.5 H200" fill="none" stroke="#8a8a8a" stroke-width="1.6" stroke-dasharray="10 2.2 3.8 2.2" stroke-linejoin="miter" stroke-linecap="butt"/>
<path d="M41.1,417.6 H48.9 V428.7 H51.5 V441.4 H58.8 V453.1 H99.9 V459.3 H139.2 V472 H144.6 V497.3 H170.5 V573" fill="none" stroke="#111" stroke-width="1.8" stroke-linejoin="miter" stroke-linecap="butt"/>
<path d="M41.1,417.6 H44 V432.7 H52.3 V441.5 H54 V460 H55.5 V479 H57.6 V484.4 H85.3 V499.6 H86.8 V508.9 H95.7 V515.8 H99 V523.9 H106.1 V533.1 H109.5 V540.5 H117.7 V548.8 H154.3 V560.8 H197.3" fill="none" stroke="#111" stroke-width="1.8" stroke-dasharray="10.3 2.1 4.0 2.1" stroke-linejoin="miter" stroke-linecap="butt"/>
<line x1="191.30" y1="498.00" x2="202.40" y2="498.00" stroke="#b5b5b5" stroke-width="1.9" />
<line x1="191.30" y1="516.50" x2="202.40" y2="516.50" stroke="#111" stroke-width="2.3" />
<text transform="translate(207.00 499.10) scale(0.98 1.05)" font-size="7.5" text-anchor="start" >0, 1; IPI 1, 2</text>
<text transform="translate(207.00 507.20) scale(0.98 1.05)" font-size="7.5" text-anchor="start" >(n=57)</text>
<text transform="translate(207.00 516.30) scale(0.98 1.05)" font-size="7.5" text-anchor="start" >2, 3; IPI 1, 2</text>
<text transform="translate(207.00 524.60) scale(0.98 1.05)" font-size="7.5" text-anchor="start" >(n=27)</text>
<text transform="translate(222.70 537.90) scale(0.98 1.05)" font-size="7.5" text-anchor="start" >p=0.019</text>
<line x1="47.20" y1="539.60" x2="57.60" y2="539.60" stroke="#8a8a8a" stroke-width="1.9" stroke-dasharray="4.3 2.3"/>
<line x1="47.20" y1="557.40" x2="57.60" y2="557.40" stroke="#111" stroke-width="2.2" stroke-dasharray="4.5 2.2"/>
<text transform="translate(62.20 539.90) scale(0.98 1.05)" font-size="7.5" text-anchor="start" >0, 1; IPI 3-5</text>
<text transform="translate(62.20 547.80) scale(0.98 1.05)" font-size="7.5" text-anchor="start" >(n=30)</text>
<text transform="translate(62.20 557.10) scale(0.98 1.05)" font-size="7.5" text-anchor="start" >2, 3; IPI 3-5</text>
<text transform="translate(62.20 565.80) scale(0.98 1.05)" font-size="7.5" text-anchor="start" >(n=21)</text>
<text transform="translate(113.00 563.40) scale(0.98 1.05)" font-size="7.5" text-anchor="start" >p&lt;0.001</text>
<path d="M300.30,417.80 H515.90 V573.50" fill="none" stroke="#111" stroke-width="1.5" stroke-linejoin="miter"/>
<line x1="300.30" y1="417.00" x2="300.30" y2="574.30" stroke="#111" stroke-width="1.7" />
<line x1="299.50" y1="573.50" x2="516.70" y2="573.50" stroke="#111" stroke-width="1.7" />
<line x1="296.30" y1="573.50" x2="300.30" y2="573.50" stroke="#111" stroke-width="1.3" />
<text transform="translate(292.70 576.75) scale(0.95 1.05)" font-size="7.5" text-anchor="end" >0.0</text>
<line x1="296.30" y1="557.93" x2="300.30" y2="557.93" stroke="#111" stroke-width="1.3" />
<text transform="translate(292.70 561.18) scale(0.95 1.05)" font-size="7.5" text-anchor="end" >0.1</text>
<line x1="296.30" y1="542.36" x2="300.30" y2="542.36" stroke="#111" stroke-width="1.3" />
<text transform="translate(292.70 545.61) scale(0.95 1.05)" font-size="7.5" text-anchor="end" >0.2</text>
<line x1="296.30" y1="526.79" x2="300.30" y2="526.79" stroke="#111" stroke-width="1.3" />
<text transform="translate(292.70 530.04) scale(0.95 1.05)" font-size="7.5" text-anchor="end" >0.3</text>
<line x1="296.30" y1="511.22" x2="300.30" y2="511.22" stroke="#111" stroke-width="1.3" />
<text transform="translate(292.70 514.47) scale(0.95 1.05)" font-size="7.5" text-anchor="end" >0.4</text>
<line x1="296.30" y1="495.65" x2="300.30" y2="495.65" stroke="#111" stroke-width="1.3" />
<text transform="translate(292.70 498.90) scale(0.95 1.05)" font-size="7.5" text-anchor="end" >0.5</text>
<line x1="296.30" y1="480.08" x2="300.30" y2="480.08" stroke="#111" stroke-width="1.3" />
<text transform="translate(292.70 483.33) scale(0.95 1.05)" font-size="7.5" text-anchor="end" >0.6</text>
<line x1="296.30" y1="464.51" x2="300.30" y2="464.51" stroke="#111" stroke-width="1.3" />
<text transform="translate(292.70 467.76) scale(0.95 1.05)" font-size="7.5" text-anchor="end" >0.7</text>
<line x1="296.30" y1="448.94" x2="300.30" y2="448.94" stroke="#111" stroke-width="1.3" />
<text transform="translate(292.70 452.19) scale(0.95 1.05)" font-size="7.5" text-anchor="end" >0.8</text>
<line x1="296.30" y1="433.37" x2="300.30" y2="433.37" stroke="#111" stroke-width="1.3" />
<text transform="translate(292.70 436.62) scale(0.95 1.05)" font-size="7.5" text-anchor="end" >0.9</text>
<line x1="296.30" y1="417.80" x2="300.30" y2="417.80" stroke="#111" stroke-width="1.3" />
<text transform="translate(292.70 421.05) scale(0.95 1.05)" font-size="7.5" text-anchor="end" >1.0</text>
<line x1="300.30" y1="573.50" x2="300.30" y2="577.10" stroke="#111" stroke-width="1.3" />
<text transform="translate(300.30 587.60) scale(0.97 1.05)" font-size="7.5" text-anchor="middle" >0</text>
<line x1="313.78" y1="573.50" x2="313.78" y2="577.10" stroke="#111" stroke-width="1.3" />
<line x1="327.25" y1="573.50" x2="327.25" y2="577.10" stroke="#111" stroke-width="1.3" />
<text transform="translate(327.25 587.60) scale(0.97 1.05)" font-size="7.5" text-anchor="middle" >10</text>
<line x1="340.73" y1="573.50" x2="340.73" y2="577.10" stroke="#111" stroke-width="1.3" />
<line x1="354.20" y1="573.50" x2="354.20" y2="577.10" stroke="#111" stroke-width="1.3" />
<text transform="translate(354.20 587.60) scale(0.97 1.05)" font-size="7.5" text-anchor="middle" >20</text>
<line x1="367.68" y1="573.50" x2="367.68" y2="577.10" stroke="#111" stroke-width="1.3" />
<line x1="381.15" y1="573.50" x2="381.15" y2="577.10" stroke="#111" stroke-width="1.3" />
<text transform="translate(381.15 587.60) scale(0.97 1.05)" font-size="7.5" text-anchor="middle" >30</text>
<line x1="394.62" y1="573.50" x2="394.62" y2="577.10" stroke="#111" stroke-width="1.3" />
<line x1="408.10" y1="573.50" x2="408.10" y2="577.10" stroke="#111" stroke-width="1.3" />
<text transform="translate(408.10 587.60) scale(0.97 1.05)" font-size="7.5" text-anchor="middle" >40</text>
<line x1="421.57" y1="573.50" x2="421.57" y2="577.10" stroke="#111" stroke-width="1.3" />
<line x1="435.05" y1="573.50" x2="435.05" y2="577.10" stroke="#111" stroke-width="1.3" />
<text transform="translate(435.05 587.60) scale(0.97 1.05)" font-size="7.5" text-anchor="middle" >50</text>
<line x1="448.52" y1="573.50" x2="448.52" y2="577.10" stroke="#111" stroke-width="1.3" />
<line x1="462.00" y1="573.50" x2="462.00" y2="577.10" stroke="#111" stroke-width="1.3" />
<text transform="translate(462.00 587.60) scale(0.97 1.05)" font-size="7.5" text-anchor="middle" >60</text>
<line x1="475.48" y1="573.50" x2="475.48" y2="577.10" stroke="#111" stroke-width="1.3" />
<line x1="488.95" y1="573.50" x2="488.95" y2="577.10" stroke="#111" stroke-width="1.3" />
<text transform="translate(488.95 587.60) scale(0.97 1.05)" font-size="7.5" text-anchor="middle" >70</text>
<line x1="502.42" y1="573.50" x2="502.42" y2="577.10" stroke="#111" stroke-width="1.3" />
<line x1="515.90" y1="573.50" x2="515.90" y2="577.10" stroke="#111" stroke-width="1.3" />
<text transform="translate(515.90 587.60) scale(0.97 1.05)" font-size="7.5" text-anchor="middle" >80</text>
<text transform="translate(408.10 602.60) scale(1.0 1.0)" font-size="8.2" text-anchor="middle" >months</text>
<text transform="translate(488.90 434.20) scale(0.98 1.05)" font-size="9.3" text-anchor="start" >OS</text>
<path d="M300,418 H313 V419.8 H326.5 V425.9 H355.7 V427.4 H388 V431 H411 V437.9 H424.2 V444.3 H447.3 V470.9 H460.5" fill="none" stroke="#b5b5b5" stroke-width="1.6" stroke-linejoin="miter" stroke-linecap="butt"/>
<path d="M300,418 H313.5 V422 H317 V432.7 H321.5 V438.8 H347.2 V444.5 H462.4" fill="none" stroke="#8a8a8a" stroke-width="1.6" stroke-dasharray="10 2.2 3.8 2.2" stroke-linejoin="miter" stroke-linecap="butt"/>
<path d="M300,418.3 H326.6 V423.4 H355 V428.8 H357.3 V432 H359 V436.5 H359.6 V441.9 H399.6 V455.9 H410.7 V471.6 H430.5 V522 H445.7" fill="none" stroke="#111" stroke-width="1.8" stroke-linejoin="miter" stroke-linecap="butt"/>
<path d="M300,418 H303.6 V432.4 H310.3 V440.5 H312.6 V447 H314.2 V456 H315 V463 H316.5 V469.3 H325.7 V476.7 H328.5 V484.5 H344.2 V491.5 H361.5 V500.3 H368.4 V508.9 H413.9 V521.6 H415.5 V535.4 H418.5 V547.4 H438.8 V559.7 H457.7" fill="none" stroke="#111" stroke-width="1.8" stroke-dasharray="10.3 2.1 4.0 2.1" stroke-linejoin="miter" stroke-linecap="butt"/>
<line x1="453.00" y1="498.00" x2="464.70" y2="498.00" stroke="#b5b5b5" stroke-width="1.9" />
<line x1="453.00" y1="516.50" x2="464.70" y2="516.50" stroke="#111" stroke-width="2.3" />
<text transform="translate(468.80 499.10) scale(0.98 1.05)" font-size="7.5" text-anchor="start" >0, 1; IPI 1, 2</text>
<text transform="translate(468.80 507.20) scale(0.98 1.05)" font-size="7.5" text-anchor="start" >(n=57)</text>
<text transform="translate(468.80 516.30) scale(0.98 1.05)" font-size="7.5" text-anchor="start" >2, 3; IPI 1, 2</text>
<text transform="translate(468.80 524.60) scale(0.98 1.05)" font-size="7.5" text-anchor="start" >(n=27)</text>
<text transform="translate(484.30 537.90) scale(0.98 1.05)" font-size="7.5" text-anchor="start" >p=0.046</text>
<line x1="308.40" y1="539.60" x2="318.80" y2="539.60" stroke="#8a8a8a" stroke-width="1.9" stroke-dasharray="4.3 2.3"/>
<line x1="308.40" y1="557.40" x2="318.80" y2="557.40" stroke="#111" stroke-width="2.2" stroke-dasharray="4.5 2.2"/>
<text transform="translate(323.40 539.90) scale(0.98 1.05)" font-size="7.5" text-anchor="start" >0, 1; IPI 3-5</text>
<text transform="translate(323.40 547.80) scale(0.98 1.05)" font-size="7.5" text-anchor="start" >(n=30)</text>
<text transform="translate(323.40 557.10) scale(0.98 1.05)" font-size="7.5" text-anchor="start" >2, 3; IPI 3-5</text>
<text transform="translate(323.40 565.80) scale(0.98 1.05)" font-size="7.5" text-anchor="start" >(n=21)</text>
<text transform="translate(376.50 563.40) scale(0.98 1.05)" font-size="7.5" text-anchor="start" >p&lt;0.001</text>
</svg>
</body></html>
